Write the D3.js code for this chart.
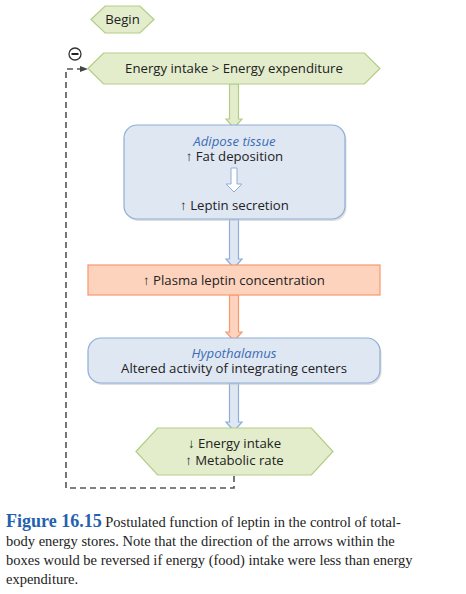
<!DOCTYPE html><html><head><meta charset="utf-8"><script src="https://cdn.jsdelivr.net/npm/d3@7"></script>
<style>body{margin:0;background:#fff}</style></head><body><svg id="c" width="466" height="594"></svg>
<script>
const nodes = [
 {id:"begin",shape:"hex",x0:91,x1:154,y0:6,y1:33,theme:"g",lines:[{t:"Begin"}]},
 {id:"ei",shape:"hex",x0:88,x1:380,y0:53,y1:84,theme:"g",lines:[{t:"Energy intake > Energy expenditure"}]},
 {id:"adi",shape:"round",x0:124,x1:345,y0:125,y1:219,theme:"b",lines:[{t:"Adipose tissue",i:1,y:141},{t:"↑ Fat deposition",y:156},{t:"↑ Leptin secretion",y:205}]},
 {id:"pl",shape:"rect",x0:88,x1:380,y0:265,y1:295,theme:"o",lines:[{t:"↑ Plasma leptin concentration",y:280}]},
 {id:"hy",shape:"round",x0:88,x1:380,y0:338,y1:383,theme:"b",lines:[{t:"Hypothalamus",i:1,y:353},{t:"Altered activity of integrating centers",y:368}]},
 {id:"out",shape:"hex",x0:136,x1:333,y0:428,y1:475,theme:"g",lines:[{t:"↓ Energy intake",y:443},{t:"↑ Metabolic rate",y:460}]}
];
const arrows = [{y0:84,y1:128,theme:"g"},{y0:219,y1:268,theme:"b"},{y0:295,y1:341,theme:"o"},{y0:383,y1:431,theme:"b"}];
const caption = ["Postulated function of leptin in the control of total-","body energy stores. Note that the direction of the arrows within the","boxes would be reversed if energy (food) intake were less than energy","expenditure."];
const th = {g:{f:"#e3edcc",s:"#b3cd84"},b:{f:"#dfe7f3",s:"#8eaed8"},o:{f:"#fdd3bd",s:"#f5996e"}};
const svg = d3.select("#c"), cx = 234;
const font = "'Open Sans', sans-serif";
function arrowPts(y0,y1,w,h,hl){return [[cx-w,y0],[cx+w,y0],[cx+w,y1-hl],[cx+h,y1-hl],[cx,y1],[cx-h,y1-hl],[cx-w,y1-hl]].join(" ");}
arrows.forEach(a=>{
  svg.append("polygon").attr("points",arrowPts(a.y0,a.y1,4.5,8,9)).attr("fill",th[a.theme].f).attr("stroke",th[a.theme].s).attr("stroke-width",1.2);
});
// dashed feedback
svg.append("path").attr("d","M234,476 V488 H66 V69 H82").attr("fill","none").attr("stroke","#555").attr("stroke-width",1.6).attr("stroke-dasharray","6,4");
svg.append("polygon").attr("points","88,69 80,66 80,72").attr("fill","#444");
svg.append("circle").attr("cx",75).attr("cy",54).attr("r",6).attr("fill","#fff").attr("stroke","#333").attr("stroke-width",1.3);
svg.append("line").attr("x1",71.5).attr("x2",78.5).attr("y1",54).attr("y2",54).attr("stroke","#222").attr("stroke-width",2);
nodes.forEach(n=>{
  const t=th[n.theme], ym=(n.y0+n.y1)/2, d=n.shape==="hex"?(n.y1-n.y0)/2*0.75+4:0;
  const tx=(n.x0+n.x1)/2;
  if(n.shape==="round") svg.append("rect").attr("x",n.x0+1.5).attr("y",n.y0+2).attr("width",n.x1-n.x0).attr("height",n.y1-n.y0).attr("rx",13).attr("fill","#c8c8c8").attr("opacity",0.6);
  let el;
  if(n.shape==="hex") el=svg.append("polygon").attr("points",[[n.x0,ym],[n.x0+d,n.y0],[n.x1-d,n.y0],[n.x1,ym],[n.x1-d,n.y1],[n.x0+d,n.y1]].join(" "));
  else el=svg.append("rect").attr("x",n.x0).attr("y",n.y0).attr("width",n.x1-n.x0).attr("height",n.y1-n.y0).attr("rx",n.shape==="round"?13:0);
  el.attr("fill",t.f).attr("stroke",t.s).attr("stroke-width",1.2);
  n.lines.forEach(l=>{
    svg.append("text").attr("x",tx).attr("y",(l.y??ym)+4.5).attr("text-anchor","middle").attr("font-family",font).attr("font-size",13.2)
      .attr("font-style",l.i?"italic":null).attr("fill",l.i?"#3b6db3":"#222").text(l.t);
  });
});
// inner hollow arrow
svg.append("polygon").attr("points",arrowPts(168,192,3,8,8)).attr("fill","#fff").attr("stroke","#8eaed8").attr("stroke-width",1);
// caption
const cap=svg.append("text").attr("font-family","'Liberation Serif', serif").attr("font-size",14.5).attr("fill","#222");
const t0=cap.append("tspan").attr("x",6).attr("y",527);
t0.append("tspan").attr("font-weight","bold").attr("fill","#2462ae").attr("font-size",18).text("Figure 16.15");
t0.append("tspan").text(" "+caption[0]);
caption.slice(1).forEach((c,i)=>cap.append("tspan").attr("x",6).attr("y",546+i*19).text(c));
</script></body></html>
